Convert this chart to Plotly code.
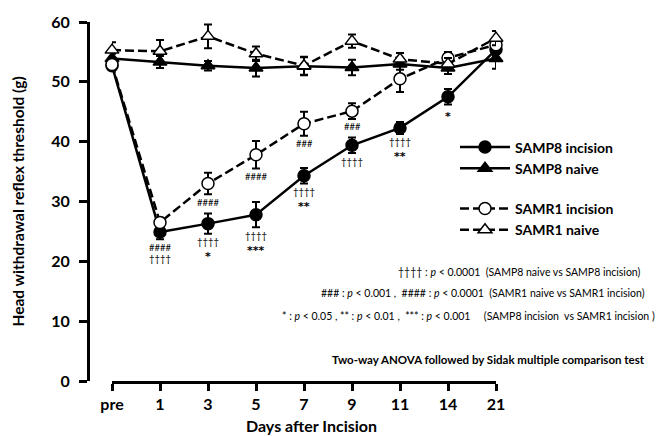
import plotly.graph_objects as go

# ---------------- data ----------------
days = ["pre", "1", "3", "5", "7", "9", "11", "14", "21"]

samp8_incision = [52.7, 24.9, 26.3, 27.8, 34.3, 39.4, 42.3, 47.5, 55.4]
samp8_incision_err = [0.8, 1.2, 1.7, 2.1, 1.3, 1.3, 1.0, 1.3, 1.0]

samp8_naive = [53.9, 53.3, 52.7, 52.3, 52.6, 52.4, 53.0, 52.3, 53.9]
samp8_naive_err = [0.8, 1.0, 0.8, 1.4, 1.5, 1.3, 1.0, 1.0, 1.7]

samr1_incision = [52.9, 26.5, 33.0, 37.8, 43.0, 45.1, 50.5, 54.0, 56.2]
samr1_incision_err = [0.8, 0.8, 1.8, 2.3, 2.0, 1.3, 2.2, 1.0, 1.0]

samr1_naive = [55.3, 55.1, 57.6, 54.7, 52.7, 56.8, 53.8, 53.0, 57.3]
samr1_naive_err = [1.3, 1.9, 2.0, 1.2, 1.5, 1.1, 1.0, 1.0, 1.2]

# significance marks: (day, series it sits under, text)
sig_days = ["1", "1", "3", "3", "3", "5", "5", "5", "7", "7", "7", "9", "9", "11", "11", "14"]
sig_series = ["p8", "p8", "r1", "p8", "p8", "r1", "p8", "p8", "r1", "p8", "p8", "r1", "p8", "p8", "p8", "p8"]
sig_texts = ["####", "††††", "####", "††††", "*", "####", "††††", "***", "###", "††††", "**",
             "###", "††††", "††††", "**", "*"]

legend_texts = [
    "†††† : <i>p</i> < 0.0001  (SAMP8 naive vs SAMP8 incision)",
    "### : <i>p</i> < 0.001 ,  #### : <i>p</i> < 0.0001  (SAMR1 naive vs SAMR1 incision)",
    "* : <i>p</i> < 0.05 , ** : <i>p</i> < 0.01 ,  *** : <i>p</i> < 0.001     (SAMP8 incision  vs SAMR1 incision )",
]
stats_note = "Two-way ANOVA followed by Sidak multiple comparison test"

# ---------------- figure ----------------
FONT = "Lato, 'Open Sans', sans-serif"
STAR_FONT = "'DejaVu Sans', sans-serif"
W, H = 658, 436
L, R, T, B = 88, 162, 17, 55
PW = W - L - R
PH = H - T - B

def px_x(p):
    return (p - L) / PW

def px_y(p):
    return (H - B - p) / PH

fig = go.Figure()

def add_series(name, y, err, symbol, fill, dash, group):
    fig.add_trace(go.Scatter(
        x=days, y=y, name=name, mode="lines+markers",
        legendgroup=group,
        line=dict(color="black", width=2.5, dash=dash),
        marker=dict(symbol=symbol, size=12, color=fill,
                    line=dict(color="black", width=1.5)),
        error_y=dict(type="data", array=err, color="black", thickness=2, width=4),
        cliponaxis=False,
    ))

add_series("SAMP8 incision", samp8_incision, samp8_incision_err, "circle", "black", "solid", "p8")
add_series("SAMP8 naive", samp8_naive, samp8_naive_err, "triangle-up", "black", "solid", "p8")
add_series("SAMR1 incision", samr1_incision, samr1_incision_err, "circle", "white", "9px,4px", "r1")
add_series("SAMR1 naive", samr1_naive, samr1_naive_err, "triangle-up", "white", "9px,4px", "r1")

series_map = {"p8": samp8_incision, "r1": samr1_incision}
err_map = {"p8": samp8_incision_err, "r1": samr1_incision_err}

annotations = []
stack = {}
for d, s, t in zip(sig_days, sig_series, sig_texts):
    i = days.index(d)
    key = (d, s)
    k = stack.get(key, 0)
    stack[key] = k + 1
    yv = series_map[s][i] - err_map[s][i]
    is_star = t.startswith("*")
    shift = -8 - 11 * k - (4 if is_star else 0)
    annotations.append(dict(
        x=i, y=yv, xref="x", yref="y", text=t, showarrow=False,
        yshift=shift, borderpad=0,
        font=dict(family=STAR_FONT if is_star else FONT,
                  size=11 if is_star else 9.5, color="black",
                  weight="bold" if is_star else "normal"),
        xanchor="center", yanchor="middle",
    ))

# p-value legend lines
for txt, yp, xp in zip(legend_texts, [270, 292, 315], [643, 647, 657]):
    annotations.append(dict(
        x=px_x(xp), y=px_y(yp), xref="paper", yref="paper", text=txt,
        showarrow=False, xanchor="right", yanchor="middle",
        font=dict(family=FONT, size=10.5, color="black"),
    ))
annotations.append(dict(
    x=px_x(647), y=px_y(359), xref="paper", yref="paper", text="<b>" + stats_note + "</b>",
    showarrow=False, xanchor="right", yanchor="middle",
    font=dict(family=FONT, size=11.5, color="black"),
))
# axis titles
annotations.append(dict(
    x=px_x(17), y=0.5, xref="paper", yref="paper",
    text="<b>Head withdrawal reflex threshold (g)</b>", textangle=-90,
    showarrow=False, xanchor="center", yanchor="middle",
    font=dict(family=FONT, size=15.5, color="black"),
))
annotations.append(dict(
    x=px_x(311), y=px_y(426), xref="paper", yref="paper",
    text="<b>Days after Incision</b>",
    showarrow=False, xanchor="center", yanchor="middle",
    font=dict(family=FONT, size=16, color="black"),
))

fig.update_layout(
    width=W, height=H, autosize=False,
    margin=dict(l=L, r=R, t=T, b=B, pad=0),
    paper_bgcolor="white", plot_bgcolor="white",
    font=dict(family=FONT, color="black"),
    showlegend=True,
    legend=dict(
        x=px_x(455), y=px_y(128), xanchor="left", yanchor="top",
        bgcolor="rgba(0,0,0,0)", traceorder="grouped", tracegroupgap=19,
        itemwidth=50,
        font=dict(family=FONT, size=14, color="black", weight="bold"),
    ),
    xaxis=dict(
        type="category", range=[0, len(days) - 1],
        domain=[(112 - L) / PW, 1],
        showline=True, linecolor="black", linewidth=3,
        ticks="outside", ticklen=7, tickwidth=2.5, tickcolor="black",
        showgrid=False, zeroline=False,
        tickfont=dict(family=FONT, size=16, color="black", weight="bold"),
        anchor="y",
    ),
    yaxis=dict(
        range=[0, 60], dtick=10, anchor="free", position=0,
        showline=True, linecolor="black", linewidth=3,
        ticks="outside", ticklen=8, tickwidth=2.5, tickcolor="black",
        showgrid=False, zeroline=False, ticklabelstandoff=6,
        tickfont=dict(family=FONT, size=16, color="black", weight="bold"),
    ),
    annotations=annotations,
)

fig.write_html("out.html", config={"displayModeBar": False},
               post_script="document.body.style.margin='0px';")
